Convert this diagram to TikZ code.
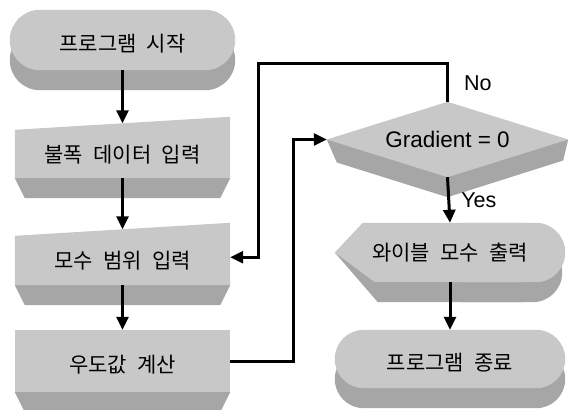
\documentclass[tikz,border=0pt]{standalone}
\usepackage{fontspec}
\setmainfont{Liberation Sans}
\newfontfamily\kr[WordSpace=2.2]{Noto Sans CJK KR}
\usetikzlibrary{arrows.meta,positioning,calc,backgrounds}
\definecolor{facegray}{RGB}{200,200,200}
\definecolor{sidegray}{RGB}{166,166,166}

\begin{document}
\begin{tikzpicture} [x = 1pt, y = -1pt, > = {Triangle[length=13pt,width=12pt]}]
            % Estilos
            \tikzstyle{block}=[inner sep=0pt, minimum width=215pt, font=\fontsize{21}{24}\selectfont\kr, text height=23pt, text depth=0pt]
            \tikzstyle{terminal}=[block, minimum width=225pt, minimum height=60pt]
            \tikzstyle{decision}=[inner sep=0pt, minimum width=241pt, minimum height=75pt, font=\fontsize{22.5}{26}\selectfont]
            \tikzstyle{answer}=[inner sep=0pt, font=\fontsize{21.5}{25}\selectfont]
            \tikzstyle{flow}=[->, line width=3pt]

            \useasboundingbox (0,0) rectangle (569,409);

            % Nós
            \node[terminal] (start) at (122.5,40) {프로그램 시작};
            \node[block, minimum height=54.5pt] (load) at (122.5,150.75) {불폭 데이터 입력};
            \node[block, minimum height=55.5pt] (range) at (122.5,257.25) {모수 범위 입력};
            \node[block, minimum height=62pt] (lik) at (122.5,361) {우도값 계산};
            \node[decision] (grad) at (447.5,139.5) {Gradient = 0};
            \node[block, minimum width=230pt, minimum height=59pt, text height=, text depth=] (weib) at (450,252.5) {와이블 모수 출력};
            \node[terminal, minimum width=230pt, minimum height=58pt] (stop) at (450,359) {프로그램 종료};

            % Faces
            \begin{pgfonlayer}{background}
            \fill[sidegray, rounded corners=30pt] ($(start.north west)+(0,20)$) rectangle ($(start.south east)+(0,20)$);
            \fill[facegray, rounded corners=30pt] (start.north west) rectangle (start.south east);

            \fill[sidegray] (load.south west) -- (load.south east) -- ++(-10,20) -- ($(load.south west)+(10,20)$) -- cycle;
            \fill[facegray] ($(load.north west)+(0,6.5)$) -- ($(load.north east)+(0,-6.5)$) -- (load.south east) -- (load.south west) -- cycle;

            \fill[sidegray] (range.south west) -- (range.south east) -- ++(-10,20) -- ($(range.south west)+(10,20)$) -- cycle;
            \fill[facegray] ($(range.north west)+(0,6.5)$) -- ($(range.north east)+(0,-6.5)$) -- (range.south east) -- (range.south west) -- cycle;

            \fill[sidegray] (lik.south west) -- (lik.south east) -- ++(-10,20) -- ($(lik.south west)+(10,20)$) -- cycle;
            \fill[facegray] (lik.north west) rectangle (lik.south east);

            \fill[sidegray] (grad.west) -- ($(grad.west)+(10,23)$) -- ($(grad.south)+(0,20)$) -- ($(grad.east)+(-5,21)$) -- (grad.east) -- cycle;
            \fill[facegray] (grad.west) -- (grad.north) -- (grad.east) -- (grad.south) -- cycle;

            \fill[sidegray] (weib.west) -- ($(weib.south west)+(43,20)$) -- ($(weib.south east)+(-40,20)$) -- ($(weib.north east)+(-40,20)$) -- cycle;
            \fill[sidegray, rounded corners=29.5pt] ($(weib.north west)+(100,20)$) rectangle ($(weib.south east)+(-3,20)$);
            \fill[facegray] (weib.west) -- ($(weib.north west)+(28,0)$) -- ($(weib.north east)+(-40,0)$) -- ($(weib.south east)+(-40,0)$) -- ($(weib.south west)+(40,0)$) -- cycle;
            \fill[facegray, rounded corners=29.5pt] ($(weib.north west)+(100,0)$) rectangle (weib.south east);

            \fill[sidegray, rounded corners=29pt] ($(stop.north west)+(0,20)$) rectangle ($(stop.south east)+(0,20)$);
            \fill[facegray, rounded corners=29pt] (stop.north west) rectangle (stop.south east);
            \end{pgfonlayer}

            % Arestas
            \draw[flow] (start.south) -- (load.north);
            \draw[flow] (load.south) -- (range.north);
            \draw[flow] (range.south) -- (lik.north);
            \draw[flow] (lik.east) -- ++(63,0) |- (grad.west);
            \draw[flow] (grad.north) -- ++(0,-38) node[answer, midway, right=15pt] (no) {No} -| ($(range.east)+(28,0)$) -- (range.east);
            \draw[flow] (grad.south) -- node[answer, right=11pt] (yes) {Yes} (weib.north);
            \draw[flow] (weib.south) -- (stop.north);
        \end{tikzpicture}
\end{document}
